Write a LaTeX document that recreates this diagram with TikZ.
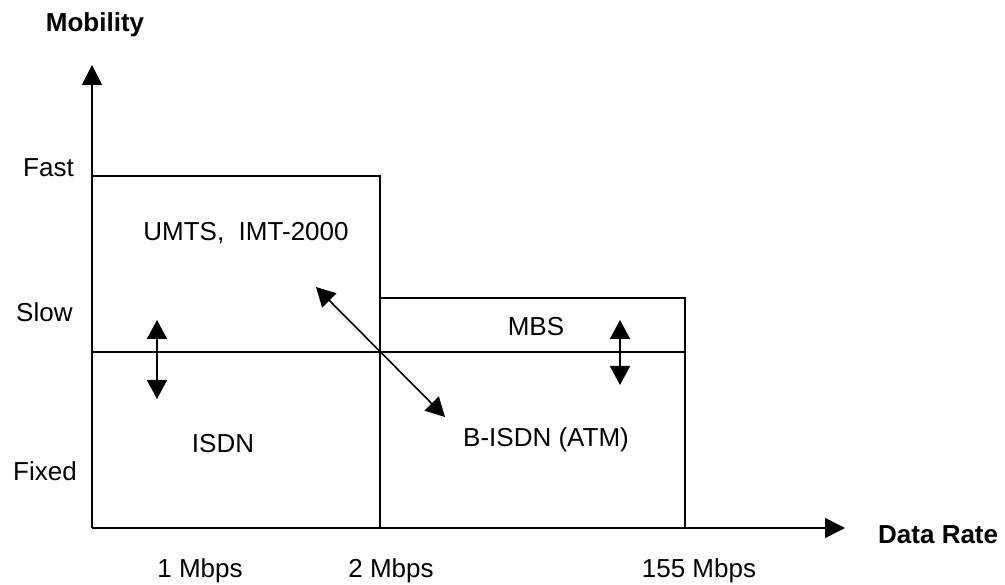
\documentclass[tikz,border=0pt]{standalone}
\usepackage{fontspec}
\setmainfont{Liberation Sans}
\usetikzlibrary{arrows.meta}
\begin{document}
\begin{tikzpicture}[x=1pt,y=-1pt,
  line/.style={line width=1.6pt},
  big/.style={-{Triangle[length=20pt,width=20pt]},line width=1.6pt},
  dbl/.style={{Triangle[length=19pt,width=20pt]}-{Triangle[length=19pt,width=20pt]},line width=1.6pt},
  lbl/.style={inner sep=0pt,anchor=base,font=\fontsize{26}{30}\selectfont},
  lblw/.style={lbl,anchor=base west},
  bold/.style={lbl,font=\fontsize{26}{30}\selectfont\bfseries}]
\useasboundingbox (0,0) rectangle (1005,585);
% axes
\coordinate (o) at (92,528);
\coordinate (ytip) at (92,65);
\coordinate (xtip) at (845,528);
\draw[big] (o) -- (ytip);
\draw[big] (o) -- (xtip);
% boxes
\draw[line] (92,176) -- (380,176) -- (380,528);
\draw[line] (380,298) rectangle (685,528);
\draw[line] (92,352) -- (685,352);
% arrows
\coordinate (dA) at (316,287);
\coordinate (dB) at (445,417);
\draw[dbl] (dA) -- (dB);
\coordinate (lA) at (157,320);
\coordinate (lB) at (157,399);
\draw[dbl] (lA) -- (lB);
\coordinate (rA) at (620,320);
\coordinate (rB) at (620,385);
\draw[dbl] (rA) -- (rB);
% labels
\node[bold] (mob) at (95,32) {Mobility};
\node[bold,anchor=base west] (dr) at (878,543) {Data Rate};
\node[lblw] (fast) at (23,177) {Fast};
\node[lblw] (slow) at (16,322) {Slow};
\node[lblw] (fixed) at (13,480) {Fixed};
\node[lbl] (umts) at (246,241) {UMTS, \ IMT-2000};
\node[lbl] (mbs) at (536,336) {MBS};
\node[lbl] (isdn) at (223,453) {ISDN};
\node[lbl] (bisdn) at (546,447) {B-ISDN (ATM)};
\node[lbl] (m1) at (200,577) {1 Mbps};
\node[lbl] (m2) at (391,577) {2 Mbps};
\node[lbl] (m155) at (699,577) {155 Mbps};
\end{tikzpicture}
\end{document}
